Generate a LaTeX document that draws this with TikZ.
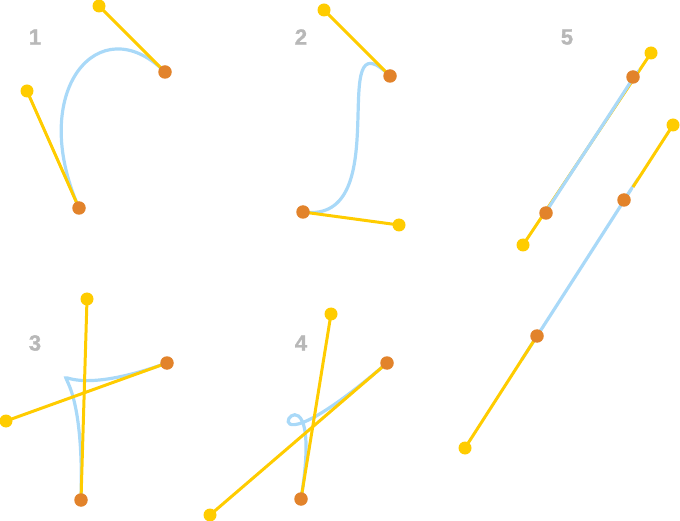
\documentclass[tikz,border=0pt]{standalone}
\usepackage{fontspec}
\setmainfont{Liberation Sans}
\newfontfamily\numfont[FakeBold=1.5]{Liberation Sans Bold}
\definecolor{ctrlc}{HTML}{FFCC00}
\definecolor{anchc}{HTML}{E2832B}
\definecolor{curvc}{HTML}{A9D9F8}
\definecolor{numc}{HTML}{B8B8B8}
\begin{document}
\begin{tikzpicture}[x=1pt,y=-1pt,
  ctrl/.style={circle,fill=ctrlc,inner sep=0pt,minimum size=13pt},
  anch/.style={circle,fill=anchc,inner sep=0pt,minimum size=13.5pt},
  handle/.style={draw=ctrlc,line width=3pt},
  curve/.style={draw=curvc,line width=3.2pt},
  num/.style={text=numc,font=\fontsize{22}{22}\numfont,inner sep=0pt}]
\useasboundingbox (0,0) rectangle (680,521);
% labels
\node[num] (n1) at (35,37) {1};
\node[num] (n2) at (301,37) {2};
\node[num] (n5) at (567,37) {5};
\node[num] (n3) at (35,343) {3};
\node[num] (n4) at (301,343) {4};
% points
\coordinate (a1) at (79,208); \coordinate (b1) at (27,91);
\coordinate (c1) at (99,6); \coordinate (d1) at (165,72);
\coordinate (a2) at (303,212); \coordinate (b2) at (399,225);
\coordinate (c2) at (324,10); \coordinate (d2) at (390,76);
\coordinate (a3) at (81,500); \coordinate (b3) at (87,299);
\coordinate (c3) at (6,421); \coordinate (d3) at (167,363);
\coordinate (a4) at (301,499); \coordinate (b4) at (331,314);
\coordinate (c4) at (210,515); \coordinate (d4) at (387,363);
\coordinate (a5) at (546,213); \coordinate (b5) at (523,245);
\coordinate (c5) at (651,53); \coordinate (d5) at (633,77);
\coordinate (a6) at (537,336); \coordinate (b6) at (465,448);
\coordinate (c6) at (673,125); \coordinate (d6) at (624,200);
\coordinate (e6) at (633,187);
% curves
\path[curve] (a1) .. controls (b1) and (c1) .. (d1);
\path[curve] (a2) .. controls (b2) and (c2) .. (d2);
\path[curve] (a3) .. controls (b3) and (c3) .. (d3);
\path[curve] (a4) .. controls (b4) and (c4) .. (d4);
\path[curve] (a6) .. controls (b6) and (c6) .. (d6);
% handles
\path[handle] (a1) -- (b1); \path[handle] (d1) -- (c1);
\path[handle] (a2) -- (b2); \path[handle] (d2) -- (c2);
\path[handle] (a3) -- (b3); \path[handle] (d3) -- (c3);
\path[handle] (a4) -- (b4); \path[handle] (d4) -- (c4);
\path[handle] (b5) -- (c5);
\path[handle] (a6) -- (b6); \path[handle] (e6) -- (c6);
\path[curve] (a5) .. controls (b5) and (c5) .. (d5);
% dots
\foreach \p in {b1,c1,b2,c2,b3,c3,b4,c4,b5,c5,b6,c6}
  \node[ctrl] (k\p) at (\p) {};
\foreach \p in {a1,d1,a2,d2,a3,d3,a4,d4,a5,d5,a6,d6}
  \node[anch] (k\p) at (\p) {};
\end{tikzpicture}
\end{document}
